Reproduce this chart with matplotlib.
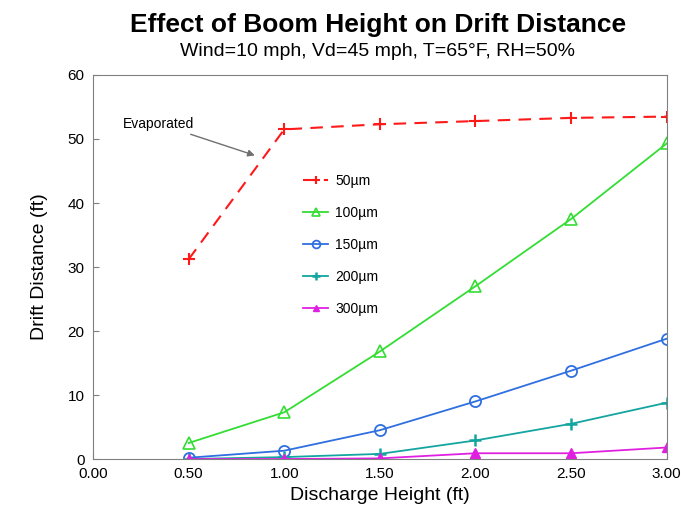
import matplotlib.pyplot as plt

plt.rcParams['font.family'] = ['Liberation Sans', 'DejaVu Sans']

heights = [0.5, 1.0, 1.5, 2.0, 2.5, 3.0]
d50 = [31.2, 51.5, 52.3, 52.8, 53.3, 53.5]
d100 = [2.5, 7.3, 16.8, 27.0, 37.5, 49.3]
d150 = [0.2, 1.3, 4.5, 9.0, 13.8, 18.8]
d200 = [0.0, 0.3, 0.8, 2.9, 5.5, 8.8]
d300 = [0.0, 0.0, 0.1, 0.9, 0.9, 1.8]

xticks = [0.0, 0.5, 1.0, 1.5, 2.0, 2.5, 3.0]
yticks = [0, 10, 20, 30, 40, 50, 60]

fig = plt.figure(figsize=(6.81, 5.27), dpi=100)
ax = fig.add_axes([0.1366, 0.129, 0.8424, 0.7287])

ax.plot(heights, d50, color='#ff1a1a', ls=(0, (6, 4)), lw=1.5, marker='+', ms=9, mew=1.5, label='50µm')
ax.plot(heights, d100, color='#33dd33', lw=1.3, marker='^', ms=8, mfc='none', mew=1.2, label='100µm')
ax.plot(heights, d150, color='#2f6fe0', lw=1.3, marker='o', ms=8, mfc='none', mew=1.3, label='150µm')
ax.plot(heights, d200, color='#14a5a0', lw=1.3, marker='+', ms=9, mew=1.8, label='200µm')
ax.plot(heights, d300, color='#e020e0', lw=1.3, marker='^', ms=7, label='300µm')

ax.annotate('Evaporated', xy=(0.86, 47.3), xytext=(0.155, 52.4),
            fontsize=10, va='center',
            arrowprops=dict(arrowstyle='-|>', color='#707070', lw=1, mutation_scale=10, shrinkA=2))

ax.set_xlim(0, 3)
ax.set_ylim(0, 60)
ax.set_xticks(xticks)
ax.set_xticklabels([f'{t:.2f}' for t in xticks])
ax.set_yticks(yticks)
ax.tick_params(direction='in', labelsize=11, length=4, color='#808080', pad=6)
for s in ax.spines.values():
    s.set_color('#808080')

ax.set_xlabel('Discharge Height (ft)', fontsize=14, labelpad=4)
ax.set_ylabel('Drift Distance (ft)', fontsize=14, labelpad=14)

fig.text(0.555, 0.953, 'Effect of Boom Height on Drift Distance', ha='center', va='center',
         fontsize=19, fontweight='bold')
fig.text(0.555, 0.902, 'Wind=10 mph, Vd=45 mph, T=65°F, RH=50%', ha='center', va='center', fontsize=14)

ax.legend(loc='upper left', bbox_to_anchor=(0.345, 0.775), frameon=False, fontsize=10,
          labelspacing=1.3, handlelength=1.8, handletextpad=0.5, markerscale=0.7)

fig.savefig('out.png')
